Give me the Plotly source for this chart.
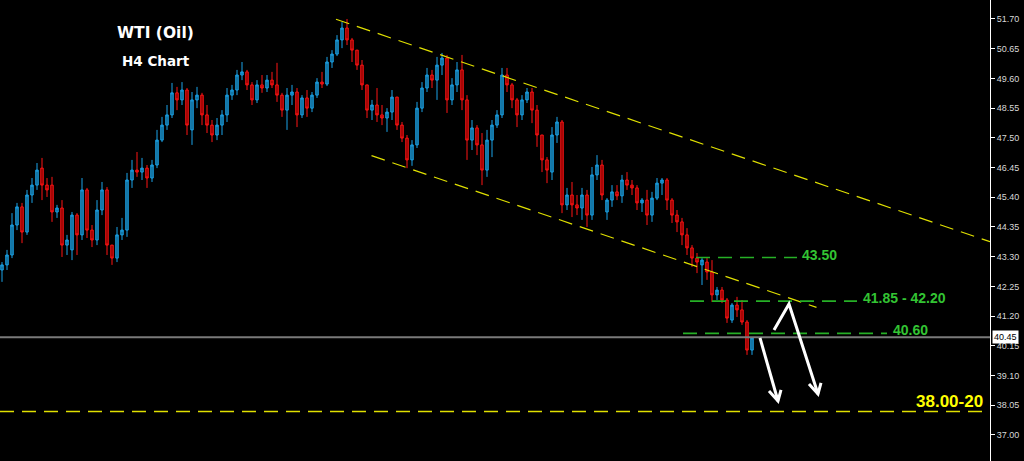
import plotly.graph_objects as go

# ---------------- data (H4 WTI candles) ----------------
opens = [42.83,43.01,43.36,44.42,45.06,44.17,45.48,45.83,46.43,45.83,
45.83,44.88,45.02,43.71,43.54,44.77,44.07,45.66,44.24,43.89,
44.95,45.66,43.71,43.25,44.07,44.24,46.01,46.36,46.29,46.43,
46.08,46.54,47.42,47.95,48.31,49.09,48.84,49.19,47.78,48.84,
49.01,48.31,47.95,47.60,47.95,48.31,49.01,49.19,49.72,49.83,
49.37,48.84,49.37,49.26,49.54,49.37,49.01,48.48,49.01,49.12,
48.31,48.91,48.55,49.01,49.47,49.40,50.18,50.46,50.96,51.38,
50.96,50.60,50.07,49.37,48.48,48.66,48.31,48.20,48.41,48.94,
47.95,47.49,46.72,47.25,48.55,49.26,49.72,49.54,50.07,50.32,
48.84,49.37,49.90,48.84,47.42,47.85,47.25,46.36,47.42,47.95,
48.31,49.72,49.37,48.84,48.31,48.84,49.12,48.48,47.60,46.72,
46.29,47.60,48.06,45.13,45.48,45.13,45.02,45.48,44.77,46.19,
46.54,44.88,45.30,45.59,45.45,46.01,45.83,45.73,45.20,45.30,
44.77,45.37,45.90,46.01,45.30,44.77,44.53,44.07,43.61,43.25,
43.01,43.11,42.76,41.95,42.12,41.77,41.06,41.59,41.42,40.99,
40.00]

highs = [43.11,43.54,44.84,45.20,45.20,45.66,46.08,46.61,46.79,46.08,
46.12,45.13,45.30,44.07,44.88,44.84,46.08,45.73,44.42,45.30,
45.94,45.76,43.71,44.35,44.67,46.26,46.72,47.00,46.79,46.54,
46.72,47.78,48.24,48.66,49.44,49.30,49.47,49.26,49.12,49.30,
49.09,48.66,48.13,48.20,48.48,49.26,49.37,49.90,50.18,49.90,
49.47,49.54,49.72,49.72,49.83,50.15,49.09,49.26,49.37,49.26,
49.01,49.19,49.12,49.61,49.83,50.36,50.60,51.13,51.59,51.70,
51.03,50.60,50.25,49.37,48.84,49.26,48.66,48.55,49.19,48.94,
48.06,47.60,47.42,48.77,49.47,49.97,49.90,50.36,50.50,50.43,
49.61,50.18,50.43,49.01,48.13,47.95,47.67,47.78,48.13,48.48,
49.97,49.97,49.44,48.91,49.01,49.26,49.26,48.66,47.60,46.82,
47.88,48.24,48.13,45.73,45.94,45.48,45.73,45.66,46.47,46.89,
46.72,45.37,45.83,45.83,46.19,46.29,46.01,45.83,45.37,45.66,
45.59,46.08,46.08,46.08,45.37,44.95,44.67,44.31,43.71,43.43,
43.25,43.25,43.18,42.23,42.23,41.84,41.66,41.88,41.77,41.06,
40.46]

lows = [42.41,42.83,43.25,44.24,43.78,44.07,45.20,45.66,45.30,45.41,
44.53,44.67,43.29,43.36,43.18,43.36,43.89,43.96,43.64,43.71,
44.77,43.36,43.01,43.11,43.89,44.00,45.73,46.12,46.01,45.73,
45.94,46.43,47.35,47.78,48.20,48.48,48.66,47.60,47.25,48.55,
47.95,47.67,47.35,47.42,47.60,48.06,48.84,49.01,49.54,49.19,
48.66,48.73,49.09,49.12,49.26,48.77,48.24,47.78,48.66,47.88,
48.20,48.24,48.41,48.91,49.26,49.33,49.97,50.39,50.67,50.78,
50.18,49.90,49.19,48.20,48.13,48.06,47.95,47.71,48.13,47.78,
47.35,46.43,46.51,47.14,48.41,49.12,49.26,48.84,49.72,48.38,
48.66,49.12,48.48,46.72,47.07,46.89,45.83,46.12,46.82,47.85,
48.20,49.12,48.55,47.88,48.13,48.73,48.02,47.18,46.29,45.90,
46.01,47.32,44.84,44.95,44.70,44.77,44.60,44.35,44.60,46.01,
45.30,44.60,45.06,45.30,45.20,45.66,45.48,44.95,44.88,44.42,
44.53,45.30,45.48,44.95,44.49,44.17,43.71,43.36,42.94,42.72,
42.30,42.48,41.70,41.77,41.66,40.96,40.96,41.17,40.89,39.83,
39.83]

closes = [43.01,43.36,44.42,45.06,44.17,45.48,45.83,46.36,45.83,45.66,
44.88,45.02,43.71,43.89,44.77,44.07,45.66,44.24,43.89,44.95,
45.66,43.71,43.25,44.07,44.24,46.01,46.36,46.29,46.43,46.08,
46.54,47.42,47.95,48.31,49.09,48.84,49.19,47.95,48.84,49.01,
48.31,47.95,47.60,47.95,48.31,49.01,49.19,49.72,49.83,49.37,
48.84,49.37,49.26,49.54,49.37,49.01,48.48,49.01,49.12,48.31,
48.91,48.55,49.01,49.47,49.40,50.18,50.46,50.96,51.38,50.96,
50.60,50.07,49.37,48.48,48.66,48.31,48.20,48.41,48.94,47.95,
47.49,46.72,47.25,48.55,49.26,49.72,49.54,50.07,50.32,48.84,
49.37,49.90,48.84,47.42,47.85,47.25,46.36,47.42,47.95,48.31,
49.72,49.37,48.84,48.31,48.84,49.12,48.48,47.60,46.72,46.36,
47.60,48.06,45.13,45.48,45.13,45.02,45.48,44.77,46.19,46.54,
45.48,45.30,45.59,45.45,46.01,45.83,45.73,45.20,45.30,44.77,
45.37,45.90,46.01,45.30,44.77,44.53,44.07,43.61,43.25,43.11,
43.18,42.76,41.95,42.12,41.77,41.13,41.59,41.42,40.99,40.00,
40.43]

tick_values = [51.70, 50.65, 49.60, 48.55, 47.50, 46.45, 45.40, 44.35,
               43.30, 42.25, 41.20, 40.15, 39.10, 38.05, 37.00]
tick_labels = ["51.70", "50.65", "49.60", "48.55", "47.50", "46.45", "45.40", "44.35",
               "43.30", "42.25", "41.20", "40.15", "39.10", "38.05", "37.00"]

current_price = 40.45
target_level = 37.83
target_label = "38.00-20"
levels = [43.27, 41.73, 40.59]
level_labels = ["43.50", "41.85 - 42.20", "40.60"]

# ---------------- drawing specs (candle index, price) ----------------
level_spans = [(138.8, 159.0, 159.6), (137.6, 171.0, 171.8), (136.2, 177.0, 177.8)]
upper_channel = ((66.8, 51.69), (197.6, 43.83))
lower_channel = ((73.9, 46.87), (162.9, 41.51))
arrow1 = [(151.6, 40.43), (155.2, 38.20)]
arrow1_head = [(153.4, 38.55), (155.2, 38.20), (155.8, 38.59)]
arrow2 = [(154.4, 40.71), (157.4, 41.63), (163.2, 38.45)]
arrow2_head = [(161.4, 38.80), (163.2, 38.45), (163.8, 38.84)]

FONT = "Liberation Sans"
TITLE_FONT = "DejaVu Sans"
x = list(range(len(opens)))

fig = go.Figure()
fig.add_trace(go.Candlestick(
    x=x, open=opens, high=highs, low=lows, close=closes,
    increasing=dict(line=dict(color="#1aa3e8", width=1), fillcolor="#12688f"),
    decreasing=dict(line=dict(color="#ff1414", width=1), fillcolor="#8a0000"),
    whiskerwidth=0, hoverinfo="skip", showlegend=False,
))

shapes = []
YEL = "#e0e000"
dash = "14px,8px"
shapes.append(dict(type="line", xref="x", yref="y",
                   x0=upper_channel[0][0], y0=upper_channel[0][1],
                   x1=upper_channel[1][0], y1=upper_channel[1][1],
                   line=dict(color=YEL, width=1.2, dash=dash)))
shapes.append(dict(type="line", xref="x", yref="y",
                   x0=lower_channel[0][0], y0=lower_channel[0][1],
                   x1=lower_channel[1][0], y1=lower_channel[1][1],
                   line=dict(color=YEL, width=1.2, dash=dash)))
shapes.append(dict(type="line", xref="paper", yref="y", x0=0, x1=1,
                   y0=target_level, y1=target_level,
                   line=dict(color=YEL, width=1.3, dash=dash)))
shapes.append(dict(type="line", xref="paper", yref="y", x0=0, x1=1,
                   y0=current_price, y1=current_price,
                   line=dict(color="#7a7a7a", width=2)))
for lv, (xa, xb, _) in zip(levels, level_spans):
    shapes.append(dict(type="line", xref="x", yref="y", x0=xa, x1=xb, y0=lv, y1=lv,
                       line=dict(color="#26b026", width=1.6, dash="14px,8px")))


def path(points):
    s = "M {} {}".format(*points[0])
    for p in points[1:]:
        s += " L {} {}".format(*p)
    return s


for pts in (arrow1, arrow1_head, arrow2, arrow2_head):
    shapes.append(dict(type="path", xref="x", yref="y", path=path(pts),
                       line=dict(color="#ffffff", width=3)))

annotations = [
    dict(text="WTI (Oil)", xref="paper", yref="paper", x=155 / 990, y=1 - 33 / 461,
         xanchor="center", yanchor="middle", showarrow=False,
         font=dict(family=TITLE_FONT, size=15.5, color="#ffffff", weight="bold")),
    dict(text="H4 Chart", xref="paper", yref="paper", x=156 / 990, y=1 - 61 / 461,
         xanchor="center", yanchor="middle", showarrow=False,
         font=dict(family=TITLE_FONT, size=13.5, color="#ffffff", weight="bold")),
    dict(text=target_label, xref="paper", yref="y", x=985 / 990, y=target_level,
         xanchor="right", yanchor="bottom", yshift=-2, showarrow=False,
         font=dict(family=FONT, size=17, color="#ffff00", weight="bold")),
    dict(text="{:.2f}".format(current_price), xref="paper", yref="y", x=1, y=current_price,
         xanchor="left", xshift=2, showarrow=False, bgcolor="#ffffff", borderpad=1,
         font=dict(family=FONT, size=9, color="#000000")),
]
for lv, lab, (_, _, xt) in zip(levels, level_labels, level_spans):
    annotations.append(dict(text=lab, xref="x", yref="y", x=xt, y=lv, xanchor="left",
                            yshift=3, showarrow=False,
                            font=dict(family=FONT, size=14, color="#33c433", weight="bold")))

fig.update_layout(
    width=1024, height=461,
    margin=dict(l=0, r=34, t=0, b=0),
    paper_bgcolor="#000000", plot_bgcolor="#000000",
    shapes=shapes, annotations=annotations,
    xaxis=dict(range=[-0.4, 197.6], showgrid=False, zeroline=False, showticklabels=False,
               rangeslider=dict(visible=False), fixedrange=True),
    yaxis=dict(range=[36.08, 52.371], side="right", tickvals=tick_values, ticktext=tick_labels,
               ticks="outside", ticklen=4, tickcolor="#ffffff", showline=True,
               linecolor="#ffffff", linewidth=1, showgrid=False, zeroline=False,
               tickfont=dict(family=FONT, size=9, color="#d8d8d8"), fixedrange=True),
)

fig.write_html("out.html", config={"displayModeBar": False})
with open("out.html", "r", encoding="utf-8") as f:
    html = f.read()
html = html.replace("<head>", "<head><style>html,body{margin:0;padding:0;background:#000;overflow:hidden;}</style>", 1)
with open("out.html", "w", encoding="utf-8") as f:
    f.write(html)
